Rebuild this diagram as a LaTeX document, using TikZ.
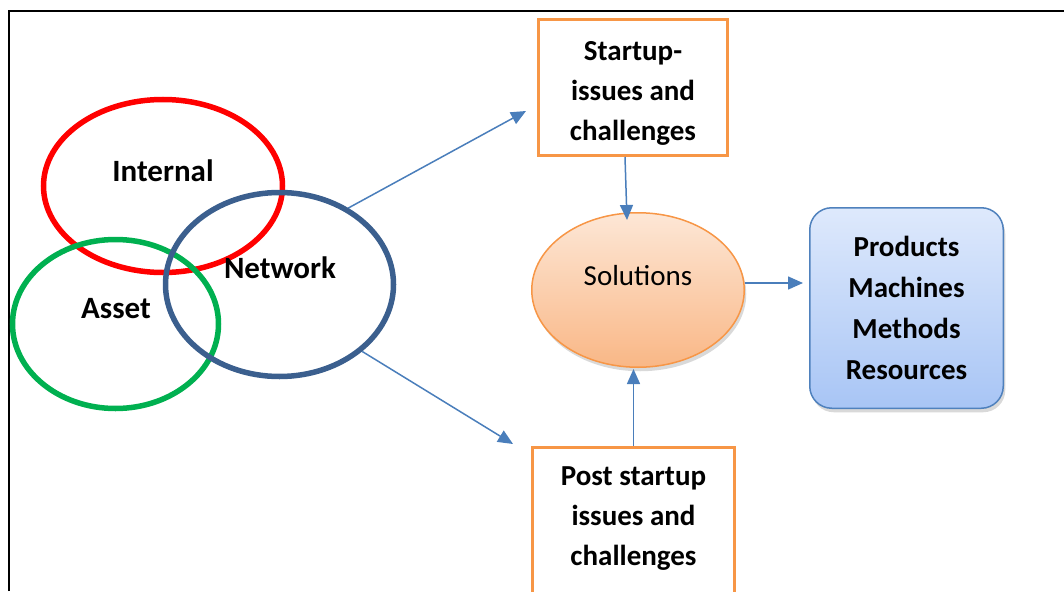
\documentclass[tikz,border=0pt]{standalone}
\usepackage{fontspec}
\setmainfont{Carlito}
\usetikzlibrary{arrows.meta, shapes.geometric, shadows}

\definecolor{ringred}{HTML}{FF0000}
\definecolor{ringgreen}{HTML}{00B050}
\definecolor{ringblue}{HTML}{3B5F8E}
\definecolor{issueorange}{HTML}{F79646}
\definecolor{flowblue}{HTML}{4A7EBB}
\definecolor{soltop}{HTML}{FDE7D6}
\definecolor{solbottom}{HTML}{F9B786}
\definecolor{restop}{HTML}{DEE9FC}
\definecolor{resbottom}{HTML}{A8C5F5}
\definecolor{resedge}{HTML}{4F81BD}

\begin{document}
\begin{tikzpicture} [
						x=1pt, y=-1pt,
						ring/.style={ellipse, line width=5.5pt, inner sep=0pt},
						ringtext/.style={font=\fontsize{31}{36}\selectfont\bfseries},
						issue/.style={draw=issueorange, line width=3pt, minimum width=189pt, inner sep=0pt},
						boxtext/.style={align=center, inner sep=0pt, font=\fontsize{29}{40}\selectfont\bfseries},
						flow/.style={draw=flowblue, line width=1.5pt, -{Triangle[length=15pt,width=13pt,fill=flowblue]}},
						pale shadow/.style={drop shadow={shadow xshift=2pt, shadow yshift=-4pt, opacity=0.25, fill=black!60}}
					]

\useasboundingbox (0,0) rectangle (1064,591);
\draw[line width=1.5pt] (9,591) -- (9,11) -- (1064,11);

\node (internal) [ring, draw=ringred, minimum width=239pt, minimum height=173pt] at (163,186) {};
\node (asset) [ring, draw=ringgreen, minimum width=206pt, minimum height=169pt] at (115.5,324) {};
\node (network) [ring, draw=ringblue, minimum width=228pt, minimum height=184pt] at (279.5,284.5) {};

\node (internallbl) [ringtext] at (163,171) {Internal};
\node (networklbl) [ringtext] at (280,268) {Network};
\node (assetlbl) [ringtext] at (116,309) {Asset};

\node (startup) [issue, minimum height=136pt] at (633,87.5) {};
\node (startuplbl) [boxtext] at ([yshift=-6pt]startup.center) {Startup-\\issues and\\challenges};

\node (post) [issue, minimum width=202pt, minimum height=160pt, anchor=north] at (633.5,445.5) {};
\node (postlbl) [boxtext] at ([yshift=-73.5pt]post.north) {Post startup\\issues and\\challenges};

\node (sol) [ellipse, draw=issueorange, line width=1.5pt, top color=soltop, bottom color=solbottom,
             minimum width=212.5pt, minimum height=154.5pt, inner sep=0pt, pale shadow] at (638,290) {};
\node (sollbl) [font=\fontsize{29}{36}\selectfont] at ([yshift=14pt]sol.center) {Solutions};

\node (result) [draw=resedge, line width=1.5pt, rounded corners=22pt, top color=restop, bottom color=resbottom,
                minimum width=193.5pt, minimum height=200.5pt, pale shadow] at (906.5,308) {};
\node (resultlbl) [boxtext, font=\fontsize{29}{41}\selectfont\bfseries] at (result.center) {Products\\Machines\\Methods\\Resources};

\coordinate (uptip) at (526,111);
\coordinate (downtip) at (513,444);
\coordinate (solin) at (627,220);
\coordinate (solup) at (633.5,369);
\coordinate (resin) at (803,283);

\draw[flow] (network.48) -- (uptip);
\draw[flow] (network.-39) -- (downtip);
\draw[flow] ([xshift=-8pt]startup.south) -- (solin);
\draw[flow] (post.north) -- (solup);
\draw[flow] (sol.east |- resin) -- (resin);
\end{tikzpicture}
\end{document}
